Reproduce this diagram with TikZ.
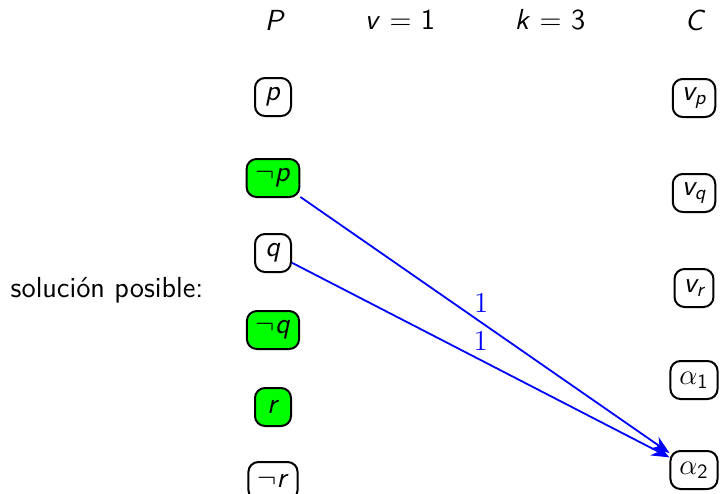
\documentclass[tikz,border=0pt]{standalone}
\usepackage{amsmath}
\usetikzlibrary{arrows.meta}
\newcommand{\sv}[1]{\textsf{\itshape #1}}
\begin{document}
\begin{tikzpicture}[x=0.5pt,y=-0.5pt,
  every node/.style={font=\sffamily\fontsize{14.5}{17}\selectfont},
  lit/.style={draw=black,line width=1pt,rounded corners=5pt,inner xsep=4.5pt,inner ysep=2pt,minimum height=19pt,minimum width=18pt},
  on/.style={lit,fill=green},
  hdr/.style={inner sep=0pt},
  edge1/.style={draw=blue,line width=0.9pt,-{Stealth[length=9pt,width=7pt]}},
  wlab/.style={text=blue,font=\fontsize{14.5}{17}\selectfont,inner sep=1pt,yshift=3.5pt}]
\useasboundingbox (0,0) rectangle (722,493);
\node[hdr] (hP) at (275,20) {\sv{P}};
\node[hdr] (hv) at (400,20) {\sv{v} $=$ 1};
\node[hdr] (hk) at (550,20) {\sv{k} $=$ 3};
\node[hdr] (hC) at (695,20) {\sv{C}};
\node[hdr] (sol) at (107,290) {solución posible:};
\node[lit] (p) at (273,97) {\sv{p}};
\node[on] (np) at (273,178) {$\neg$\sv{p}};
\node[lit] (q) at (273,253) {\sv{q}};
\node[on] (nq) at (273,330) {$\neg$\sv{q}};
\node[on] (r) at (273,407) {\sv{r}};
\node[lit] (nr) at (273,481) {$\neg$\sv{r}};
\node[lit] (vp) at (694,98) {$\sv{v}_{\sv{p}}$};
\node[lit] (vq) at (694,193) {$\sv{v}_{\sv{q}}$};
\node[lit] (vr) at (694,288) {$\sv{v}_{\sv{r}}$};
\node[lit] (a1) at (694,380) {$\alpha_{\textsf{1}}$};
\node[lit] (a2) at (694,470) {$\alpha_{\textsf{2}}$};
\draw[edge1] (np) -- node[wlab,above,pos=0.49] {$1$} (a2);
\draw[edge1] (q) -- node[wlab,above,pos=0.5] {$1$} (a2);
\end{tikzpicture}
\end{document}
